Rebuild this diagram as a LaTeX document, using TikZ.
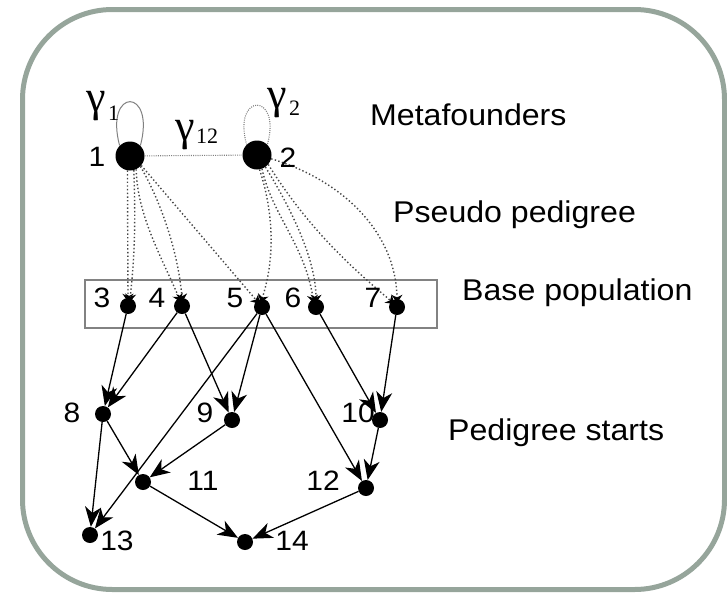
\documentclass[tikz,border=0pt]{standalone}
\usepackage{fontspec}
\setmainfont{Liberation Sans}[FakeStretch=1.07]
\newfontfamily\gfont{Liberation Serif}
\usetikzlibrary{arrows.meta}
\definecolor{framec}{RGB}{150,165,155}
\definecolor{dotc}{RGB}{70,70,70}
\definecolor{boxc}{RGB}{130,130,130}
\begin{document}
\begin{tikzpicture}[x=1pt,y=-1pt,
  big/.style={circle,fill=black,minimum size=29pt,inner sep=0pt},
  small/.style={circle,fill=black,minimum size=16pt,inner sep=0pt},
  lbl/.style={inner sep=0pt,font=\fontsize{28}{28}\selectfont},
  title/.style={inner sep=0pt,anchor=base west,font=\fontsize{30}{30}\selectfont},
  gam/.style={inner sep=0pt,anchor=base west,font=\gfont\fontsize{44}{44}\selectfont},
  gsub/.style={inner sep=0pt,anchor=base west,font=\gfont\fontsize{22}{22}\selectfont},
  ped/.style={dotc,line width=1.4pt,dash pattern=on 1.4pt off 2.3pt,shorten >=-4pt,-{Stealth[length=8pt,width=11pt,black]}},
  fine/.style={gray,line width=1.1pt,dash pattern=on 1pt off 1.2pt},
  parentarrow/.style={black,line width=1.3pt,-{Stealth[length=20pt,width=16pt,inset=6pt]}},
  basebox/.style={draw=boxc,line width=1.3pt,minimum width=352pt,minimum height=48pt,inner sep=0pt}
]
\useasboundingbox (0,0) rectangle (727,592);
\draw[framec,line width=5pt,rounded corners=90pt] (22.5,9.5) rectangle (724.5,589.5);

% base population box
\node[basebox] (box) at (261,304) {};

% nodes
\node[big] (n1) at (130,156) {};
\node[big] (n2) at (257,155) {};
\node[small] (n3) at (128,306) {};
\node[small] (n4) at (182,306) {};
\node[small] (n5) at (262,307) {};
\node[small] (n6) at (316,307) {};
\node[small] (n7) at (397,307) {};
\node[small] (n8) at (103,414) {};
\node[small] (n9) at (232,420) {};
\node[small] (n10) at (380,420) {};
\node[small] (n11) at (143,482) {};
\node[small] (n12) at (366,488) {};
\node[small] (n13) at (90,535) {};
\node[small] (n14) at (245,542) {};

% metafounder loops and link
\draw[gray,line width=1pt] (n1.135) .. controls (104,87) and (156,87) .. (n1.45);
\draw[fine] (n2.135) .. controls (232,92) and (282,92) .. (n2.45);
\draw[fine] (n1) -- (n2);

% pseudo pedigree
\draw[ped] (n1.-100) -- (n3.north);
\draw[ped] (n1.-75) .. controls (136,230) and (134,262) .. (n3.75);
\draw[ped] (n1.-65) .. controls (137,215) and (162,258) .. (n4.110);
\draw[ped] (n1.-45) .. controls (160,200) and (178,250) .. (n4.north);
\draw[ped] (n1.-40) -- (n5.130);
\draw[ped] (n2.-80) .. controls (276,220) and (273,265) .. (n5.north);
\draw[ped] (n2.-70) .. controls (272,215) and (305,245) .. (n6.110);
\draw[ped] (n2.-55) .. controls (292,210) and (316,260) .. (n6.north);
\draw[ped] (n2.-40) .. controls (312,235) and (362,276) .. (n7.135);
\draw[ped] (n2.-15) .. controls (342,180) and (396,232) .. (n7.north);

% pedigree
\draw[parentarrow] (n3) -- (n8);
\draw[parentarrow] (n4) -- (n8);
\draw[parentarrow] (n4) -- (n9);
\draw[parentarrow] (n5) -- (n9);
\draw[parentarrow] (n5) -- (n13);
\draw[parentarrow] (n5) -- (n12);
\draw[parentarrow] (n6) -- (n10);
\draw[parentarrow] (n7) -- (n10);
\draw[parentarrow] (n8) -- (n11);
\draw[parentarrow] (n8) -- (n13);
\draw[parentarrow] (n9) -- (n11);
\draw[parentarrow] (n10) -- (n12);
\draw[parentarrow] (n11) -- (n14);
\draw[parentarrow] (n12) -- (n14);

% gamma labels
\node[gam] (g1) at (86,111) {γ};
\node[gsub] (s1) at (108,120) {1};
\node[gam] (g2) at (267,108) {γ};
\node[gsub] (s2) at (289,115) {2};
\node[gam] (g12) at (175,140) {γ};
\node[gsub] (s12) at (196,143) {12};

% number labels
\node[lbl] (l1) at (97,157) {1};
\node[lbl] (l2) at (288,158) {2};
\node[lbl] (l3) at (102,298) {3};
\node[lbl] (l4) at (157,298) {4};
\node[lbl] (l5) at (235,298) {5};
\node[lbl] (l6) at (293,298) {6};
\node[lbl] (l7) at (373,298) {7};
\node[lbl] (l8) at (72,413) {8};
\node[lbl] (l9) at (205,413) {9};
\node[lbl] (l10) at (358,413) {10};
\node[lbl] (l11) at (203,481) {11};
\node[lbl] (l12) at (323,481) {12};
\node[lbl] (l13) at (117,541) {13};
\node[lbl] (l14) at (292,541) {14};

% titles
\node[title] (t1) at (370,125) {Metafounders};
\node[title] (t2) at (393,222) {Pseudo pedigree};
\node[title] (t3) at (462,300) {Base population};
\node[title] (t4) at (448,440) {Pedigree starts};
\end{tikzpicture}
\end{document}
